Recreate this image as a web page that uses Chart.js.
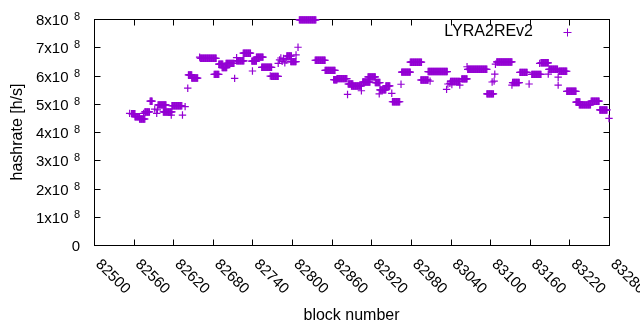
<!DOCTYPE html>
<html><head><meta charset="utf-8">
<script src="https://cdn.jsdelivr.net/npm/chart.js@4"></script>
<style>html,body{margin:0;padding:0;background:#fff;}canvas{display:block;}</style>
</head><body>
<canvas id="c" width="640" height="330"></canvas>
<script>
const seriesName = 'LYRA2REv2';
const xTitle = 'block number';
const yTitle = 'hashrate [h/s]';
const xTickValues = [82500,82560,82620,82680,82740,82800,82860,82920,82980,83040,83100,83160,83220,83280];
const yTickValues = [0,1e8,2e8,3e8,4e8,5e8,6e8,7e8,8e8];
const yTickMantissa = ['0','1x10','2x10','3x10','4x10','5x10','6x10','7x10','8x10'];
const yTickExponent = ['','8','8','8','8','8','8','8','8'];

// runs of consecutive blocks sharing the same hashrate reading
const runStart = [82554,82557,82562,82569,82575,82577,82585,82592,82595,82596,82597,82605,82617,82618,82634,82638,82642,82643,82648,82660,82661,82682,82689,82694,82700,82713,82716,82716,82726,82740,82739,82746,82754,82767,82769,82779,82781,82783,82785,82787,82789,82791,82792,82798,82806,82809,82811,82835,82850,82863,82868,82884,82885,82890,82905,82907,82915,82926,82932,82933,82942,82951,82952,82965,82966,82979,82995,83006,83009,83034,83036,83039,83042,83040,83054,83057,83065,83066,83095,83103,83106,83107,83108,83110,83133,83134,83145,83159,83163,83175,83177,83188,83189,83203,83203,83204,83216,83230,83235,83253,83266,83280];
const runEnd   = [82554,82562,82569,82577,82575,82584,82588,82592,82595,82596,82609,82618,82617,82633,82634,82638,82642,82648,82657,82660,82685,82689,82695,82701,82712,82713,82716,82727,82737,82740,82746,82756,82769,82767,82779,82779,82781,82783,82785,82787,82789,82791,82799,82806,82806,82809,82836,82850,82865,82868,82883,82884,82892,82905,82905,82918,82926,82933,82932,82942,82948,82951,82963,82965,82979,82996,83006,83035,83009,83034,83036,83039,83042,83054,83054,83065,83065,83095,83105,83103,83106,83107,83108,83133,83133,83144,83156,83159,83177,83175,83188,83188,83202,83203,83203,83216,83230,83236,83252,83265,83277,83280];
const runValue = [4.66e8,4.65e8,4.54e8,4.46e8,4.66e8,4.71e8,5.09e8,4.81e8,4.66e8,4.78e8,4.96e8,4.71e8,4.60e8,4.93e8,4.60e8,4.90e8,5.55e8,6.02e8,5.91e8,6.65e8,6.61e8,6.04e8,6.40e8,6.28e8,6.43e8,5.90e8,6.63e8,6.52e8,6.79e8,6.16e8,6.51e8,6.65e8,6.29e8,5.98e8,5.97e8,6.43e8,6.55e8,6.62e8,6.50e8,6.60e8,6.45e8,6.55e8,6.69e8,6.49e8,6.73e8,7.00e8,7.97e8,6.54e8,6.18e8,5.85e8,5.89e8,5.33e8,5.70e8,5.63e8,5.46e8,5.77e8,5.95e8,5.75e8,5.35e8,5.49e8,5.63e8,5.37e8,5.07e8,5.69e8,6.12e8,6.47e8,5.84e8,6.14e8,5.80e8,5.51e8,5.70e8,5.72e8,5.68e8,5.79e8,5.66e8,5.88e8,6.31e8,6.22e8,5.35e8,5.77e8,5.80e8,6.05e8,6.40e8,6.48e8,5.66e8,5.75e8,6.11e8,5.70e8,6.04e8,6.43e8,6.45e8,6.05e8,6.22e8,5.94e8,5.66e8,6.15e8,5.44e8,5.06e8,4.96e8,5.09e8,4.78e8,4.48e8];

const points = [];
for (let i = 0; i < runStart.length; i++) {
  for (let b = runStart[i]; b <= runEnd[i]; b++) points.push({x: b, y: runValue[i]});
}

const FONT = "'Liberation Sans', Arial, sans-serif";
const COLOR = '#9400d3';

const gnuplotFrame = {
  id: 'gnuplotFrame',
  beforeDatasetsDraw(chart) {
    const {ctx, chartArea: a, scales: {x, y}} = chart;
    ctx.save();
    ctx.strokeStyle = '#000';
    ctx.lineWidth = 1;
    const L = Math.round(a.left) + 0.5, R = Math.round(a.right) + 0.5;
    const T = Math.round(a.top) + 0.5, B = Math.round(a.bottom) + 0.5;
    ctx.strokeRect(L, T, R - L, B - T);
    ctx.beginPath();
    xTickValues.forEach(v => {
      const px = Math.round(x.getPixelForValue(v)) + 0.5;
      ctx.moveTo(px, B); ctx.lineTo(px, B - 6);
      ctx.moveTo(px, T); ctx.lineTo(px, T + 6);
    });
    yTickValues.forEach(v => {
      const py = Math.round(y.getPixelForValue(v)) + 0.5;
      ctx.moveTo(L, py); ctx.lineTo(L + 6, py);
      ctx.moveTo(R, py); ctx.lineTo(R - 6, py);
    });
    ctx.stroke();
    ctx.restore();
  },
  afterDraw(chart) {
    const {ctx, chartArea: a, scales: {x, y}} = chart;
    ctx.save();
    ctx.fillStyle = '#000';
    // x tick labels, rotated clockwise
    ctx.font = '15px ' + FONT;
    xTickValues.forEach(v => {
      const px = x.getPixelForValue(v);
      ctx.save();
      ctx.translate(px + 4, a.bottom + 17);
      ctx.rotate(Math.PI / 4);
      ctx.textAlign = 'left';
      ctx.textBaseline = 'middle';
      ctx.fillText(String(v), 0, 0);
      ctx.restore();
    });
    // y tick labels with superscript exponent
    yTickValues.forEach((v, i) => {
      const py = y.getPixelForValue(v);
      ctx.textAlign = 'right';
      ctx.textBaseline = 'alphabetic';
      ctx.font = '15px ' + FONT;
      if (yTickExponent[i] === '') {
        ctx.fillText(yTickMantissa[i], 80, py + 6);
      } else {
        ctx.fillText(yTickMantissa[i], 68.5, py + 6);
        ctx.font = '11px ' + FONT;
        ctx.fillText(yTickExponent[i], 80, py + 1);
      }
    });
    // legend
    ctx.font = '16px ' + FONT;
    ctx.textAlign = 'right';
    ctx.textBaseline = 'middle';
    ctx.fillStyle = '#000';
    ctx.fillText(seriesName, 533, 32);
    ctx.strokeStyle = COLOR;
    ctx.lineWidth = 1;
    ctx.beginPath();
    ctx.moveTo(563.5, 32.5); ctx.lineTo(571.5, 32.5);
    ctx.moveTo(567.5, 28.5); ctx.lineTo(567.5, 36.5);
    ctx.stroke();
    ctx.restore();
  }
};

new Chart(document.getElementById('c'), {
  type: 'scatter',
  data: {datasets: [{
    label: seriesName,
    data: points,
    pointStyle: 'cross',
    pointRadius: 3.7,
    pointHoverRadius: 3.7,
    pointBorderWidth: 1.2,
    borderColor: COLOR,
    backgroundColor: COLOR,
    clip: false
  }]},
  options: {
    responsive: false,
    animation: false,
    devicePixelRatio: 1,
    events: [],
    layout: {padding: {top: 19, right: 31, left: 0, bottom: 0}},
    plugins: {legend: {display: false}, tooltip: {enabled: false}},
    scales: {
      x: {
        type: 'linear', min: 82500, max: 83280,
        afterBuildTicks: s => { s.ticks = xTickValues.map(v => ({value: v})); },
        ticks: {display: false},
        grid: {display: false},
        border: {display: false},
        title: {display: true, text: xTitle, color: '#000', font: {family: FONT, size: 16}, padding: {top: 0, bottom: 5}},
        afterFit: s => { s.height = 85; }
      },
      y: {
        type: 'linear', min: 0, max: 8e8,
        afterBuildTicks: s => { s.ticks = yTickValues.map(v => ({value: v})); },
        ticks: {display: false},
        grid: {display: false},
        border: {display: false},
        title: {display: true, text: yTitle, color: '#000', font: {family: FONT, size: 16}, padding: {top: 8, bottom: 0}},
        afterFit: s => { s.width = 94; }
      }
    }
  },
  plugins: [gnuplotFrame]
});
</script>
</body></html>
